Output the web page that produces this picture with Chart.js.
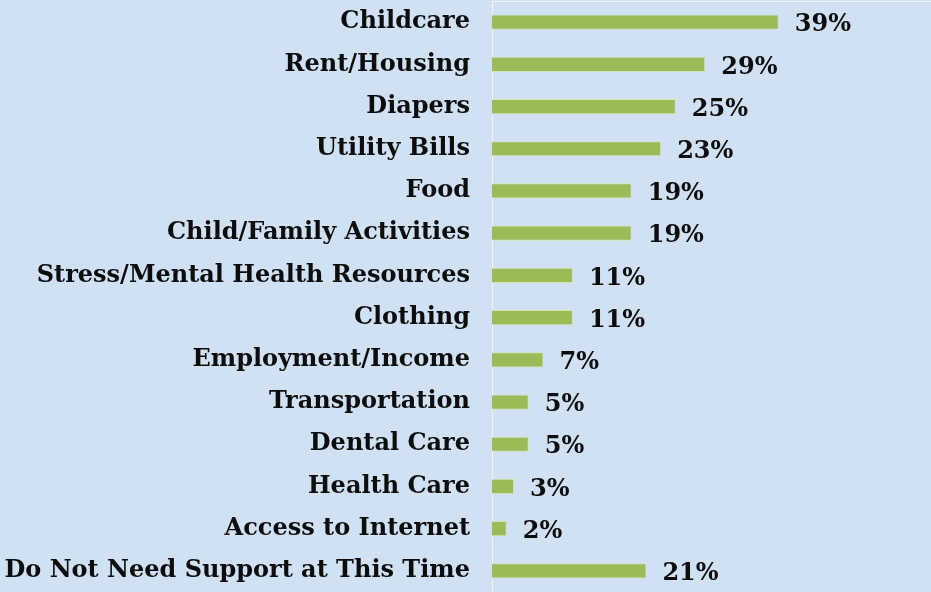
<!DOCTYPE html>
<html>
<head>
<meta charset="utf-8">
<script src="https://cdn.jsdelivr.net/npm/chart.js@4/dist/chart.umd.min.js"></script>
<style>
html,body{margin:0;padding:0;background:#cfe1f2;}
#wrap{width:931px;height:592px;}
</style>
</head>
<body>
<div id="wrap"><canvas id="c" width="931" height="592"></canvas></div>
<script>
const categories = ["Childcare","Rent/Housing","Diapers","Utility Bills","Food","Child/Family Activities","Stress/Mental Health Resources","Clothing","Employment/Income","Transportation","Dental Care","Health Care","Access to Internet","Do Not Need Support at This Time"];
const values = [39,29,25,23,19,19,11,11,7,5,5,3,2,21];
const valueLabels = values.map(v => v + "%");

const labelPlugin = {
  id: 'valLabels',
  afterDatasetsDraw(chart) {
    const ctx = chart.ctx;
    const meta = chart.getDatasetMeta(0);
    ctx.save();
    ctx.font = 'bold 24px "DejaVu Serif"';
    ctx.fillStyle = '#0d0d0d';
    ctx.textBaseline = 'middle';
    ctx.textAlign = 'left';
    meta.data.forEach((bar, i) => {
      ctx.fillText(valueLabels[i], bar.x + 16, bar.y + 3);
    });
    ctx.restore();
  }
};

new Chart(document.getElementById('c'), {
  type: 'bar',
  data: {
    labels: categories,
    datasets: [{
      data: values,
      backgroundColor: '#9bbb59',
      borderColor: '#d4e4b0',
      borderWidth: 1,
      categoryPercentage: 1,
      barPercentage: 0.36
    }]
  },
  options: {
    indexAxis: 'y',
    responsive: false,
    animation: false,
    layout: { padding: { top: 1, right: 0, bottom: 0, left: 0 } },
    plugins: { legend: { display: false }, tooltip: { enabled: false } },
    scales: {
      x: {
        position: 'top',
        min: 0, max: 59.7,
        ticks: { display: false },
        grid: { display: false, drawTicks: false },
        border: { display: true, color: '#eef4fa', width: 1 },
        afterFit(scale) { scale.height = 0; scale.paddingLeft = 0; scale.paddingRight = 0; }
      },
      y: {
        ticks: {
          color: '#0d0d0d',
          font: { family: '"DejaVu Serif"', weight: 'bold', size: 24 },
          padding: 22
        },
        grid: { display: false, drawTicks: false },
        border: { display: true, color: '#eef4fa', width: 1 },
        afterFit(scale) { scale.width = 492; scale.paddingTop = 0; scale.paddingBottom = 0; }
      }
    }
  },
  plugins: [labelPlugin]
});
</script>
</body>
</html>
